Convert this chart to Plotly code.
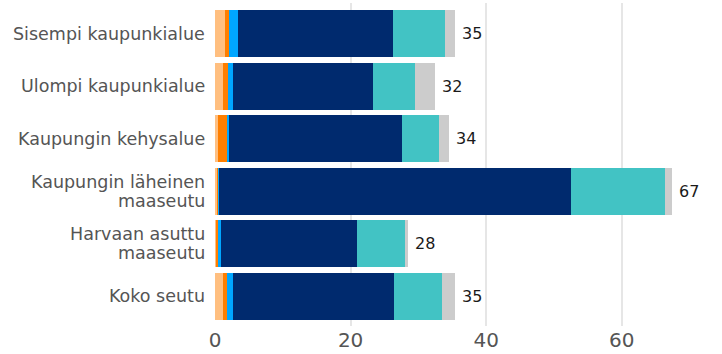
import plotly.graph_objects as go

# Regions (top to bottom); "\n" marks a line break in the axis label
regions = [
    "Sisempi kaupunkialue",
    "Ulompi kaupunkialue",
    "Kaupungin kehysalue",
    "Kaupungin läheinen\nmaaseutu",
    "Harvaan asuttu\nmaaseutu",
    "Koko seutu",
]

# Stacked components per region
seg_light_orange = [1.47, 1.18, 0.44, 0.30, 0.15, 1.18]
seg_orange       = [0.59, 0.74, 1.33, 0.25, 0.30, 0.59]
seg_light_blue   = [1.33, 0.74, 0.30, 0.05, 0.44, 0.88]
seg_navy         = [22.85, 20.60, 25.50, 51.90, 20.00, 23.70]
seg_teal         = [7.67, 6.19, 5.46, 13.90, 7.10, 7.20]
seg_gray         = [1.55, 3.00, 1.45, 1.05, 0.45, 1.90]

x_ticks = [0, 20, 40, 60]

series = [
    (seg_light_orange, "#FFBF80"),
    (seg_orange, "#FF7F00"),
    (seg_light_blue, "#00A6FF"),
    (seg_navy, "#002A6E"),
    (seg_teal, "#42C3C4"),
    (seg_gray, "#CCCCCC"),
]

ids = list(range(len(regions)))

fig = go.Figure()
for values, color in series:
    fig.add_trace(go.Bar(
        y=ids, x=values, orientation="h",
        marker=dict(color=color, line=dict(width=0)),
        hoverinfo="skip", showlegend=False,
    ))

totals = [sum(v) for v in zip(*[s for s, _ in series])]

annotations = []
# total labels at the bar ends
for i, t in enumerate(totals):
    annotations.append(dict(
        x=t, y=i, xref="x", yref="y", text=str(round(t)),
        showarrow=False, xanchor="left", yanchor="middle", xshift=5,
        font=dict(family="DejaVu Sans, Verdana, sans-serif", size=16, color="#1a1a1a"),
    ))
# category labels, right aligned, with tight line spacing
line_gap = 19
for i, name in enumerate(regions):
    lines = name.split("\n")
    n = len(lines)
    for j, line in enumerate(lines):
        shift = ((n - 1) / 2 - j) * line_gap
        annotations.append(dict(
            x=0, y=i, xref="paper", yref="y", text=line,
            showarrow=False, xanchor="right", yanchor="middle",
            xshift=-9, yshift=shift, borderpad=0,
            font=dict(family="DejaVu Sans, Verdana, sans-serif", size=17.5, color="#555555"),
        ))

fig.update_layout(
    barmode="stack",
    bargap=0.1,
    width=722, height=354,
    margin=dict(l=215, r=10, t=3, b=28),
    paper_bgcolor="white", plot_bgcolor="white",
    annotations=annotations,
    xaxis=dict(
        range=[0, 73.3],
        tickvals=x_ticks,
        ticktext=[str(v) for v in x_ticks],
        showgrid=True, gridcolor="#E6E6E6", gridwidth=2,
        zeroline=False, showline=False, ticks="",
        tickfont=dict(family="DejaVu Sans, Verdana, sans-serif", size=20, color="#555555"),
    ),
    yaxis=dict(
        range=[5.565, -0.584],
        showticklabels=False, showgrid=False, zeroline=False, showline=False, ticks="",
    ),
)

fig.write_html("out.html")
